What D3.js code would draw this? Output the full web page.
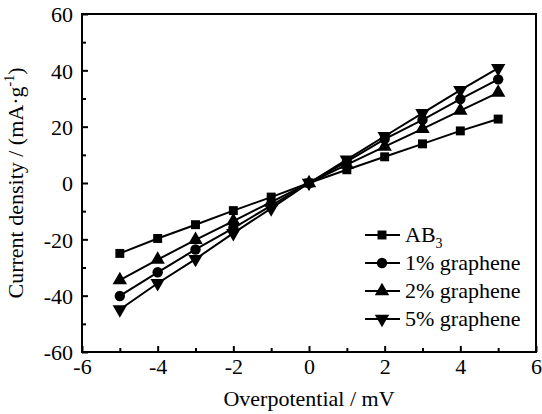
<!DOCTYPE html>
<html><head><meta charset="utf-8">
<script src="https://cdn.jsdelivr.net/npm/d3@7/dist/d3.min.js"></script>
<style>body{margin:0;background:#fff}svg{display:block}text{font-family:"Liberation Serif",serif !important;fill:#000}</style>
</head><body>
<svg id="c" width="542" height="414"></svg>
<script>
const xValues = [-5,-4,-3,-2,-1,0,1,2,3,4,5];
const ab3 = [-25,-19.7,-14.8,-9.8,-5,0,4.7,9.3,13.9,18.5,22.7];
const g1 = [-40.1,-31.7,-23.6,-16,-8,0,7.6,15.6,22.4,29.8,36.8];
const g2 = [-34.5,-27.2,-20.2,-13.5,-6.8,0,6.5,12.9,19.2,25.7,32.1];
const g5 = [-44.9,-35.6,-27,-17.8,-9,0,8.3,16.6,24.8,33,40.8];
const seriesNames = ["AB3","1% graphene","2% graphene","5% graphene"];
const xTicks = [-6,-4,-2,0,2,4,6];
const yTicks = [-60,-40,-20,0,20,40,60];

const FS = 22;
const svg = d3.select("#c");
const L=82,R=536,T=14,B=352;
const x = d3.scaleLinear().domain([-6,6]).range([L,R]);
const y = d3.scaleLinear().domain([-60,60]).range([B,T]);
const fmt = d => String(d);

svg.append("rect").attr("x",L).attr("y",T).attr("width",R-L).attr("height",B-T)
  .attr("fill","none").attr("stroke","#000").attr("stroke-width",2);

const xa = svg.append("g").attr("transform",`translate(0,${B})`);
xa.call(d3.axisBottom(x).tickValues(xTicks).tickSize(-6).tickPadding(10).tickFormat(fmt));
xa.append("g").call(d3.axisBottom(x).tickValues(d3.range(-5,6,2)).tickSize(-4).tickFormat(""));
const ya = svg.append("g").attr("transform",`translate(${L},0)`);
ya.call(d3.axisLeft(y).tickValues(yTicks).tickSize(-6).tickPadding(9).tickFormat(fmt));
ya.append("g").call(d3.axisLeft(y).tickValues(d3.range(-50,60,20)).tickSize(-4).tickFormat(""));
svg.selectAll(".domain").remove();
svg.selectAll(".tick line").attr("stroke","#000").attr("stroke-width",2);
svg.selectAll(".tick text").attr("font-size",FS).attr("fill","#000");
xa.selectAll(".tick text").attr("dy",null).attr("y",22);
ya.selectAll(".tick text").attr("dy","0.35em");

svg.append("text").attr("x",(L+R)/2).attr("y",406).attr("text-anchor","middle").attr("font-size",FS).text("Overpotential / mV");
svg.append("text").attr("transform",`translate(23,${(T+B)/2}) rotate(-90)`).attr("text-anchor","middle").attr("font-size",FS)
  .html('Current density / (mA·g<tspan dy="-9" font-size="14">-1</tspan><tspan dy="9">)</tspan>');

const sets = [ab3,g1,g2,g5];
const symbols = [d3.symbolSquare, d3.symbolCircle, d3.symbolTriangle, d3.symbolTriangle];
const sizes = [80, 85, 90, 90];
const rotations = [0,0,0,180];
const line = d3.line().x((d,i)=>x(xValues[i])).y(d=>y(d));
sets.forEach((s,k)=>{
  svg.append("path").datum(s).attr("d",line).attr("fill","none").attr("stroke","#000").attr("stroke-width",2);
  svg.append("g").selectAll("path").data(s).join("path")
    .attr("d",d3.symbol(symbols[k],sizes[k]))
    .attr("transform",(d,i)=>`translate(${x(xValues[i])},${y(d)}) rotate(${rotations[k]})`)
    .attr("fill","#000");
});

const lg = svg.append("g");
const rows=[235,263,291,319];
seriesNames.forEach((n,k)=>{
  lg.append("line").attr("x1",365).attr("x2",400).attr("y1",rows[k]).attr("y2",rows[k]).attr("stroke","#000").attr("stroke-width",2);
  lg.append("path").attr("d",d3.symbol(symbols[k],sizes[k])).attr("transform",`translate(382,${rows[k]}) rotate(${rotations[k]})`).attr("fill","#000");
  const t = lg.append("text").attr("x",405).attr("y",rows[k]+7).attr("font-size",FS);
  if(k===0){ t.text("AB"); t.append("tspan").attr("dy",6).attr("font-size",14).text("3"); }
  else t.text(n);
});
</script>
</body></html>
